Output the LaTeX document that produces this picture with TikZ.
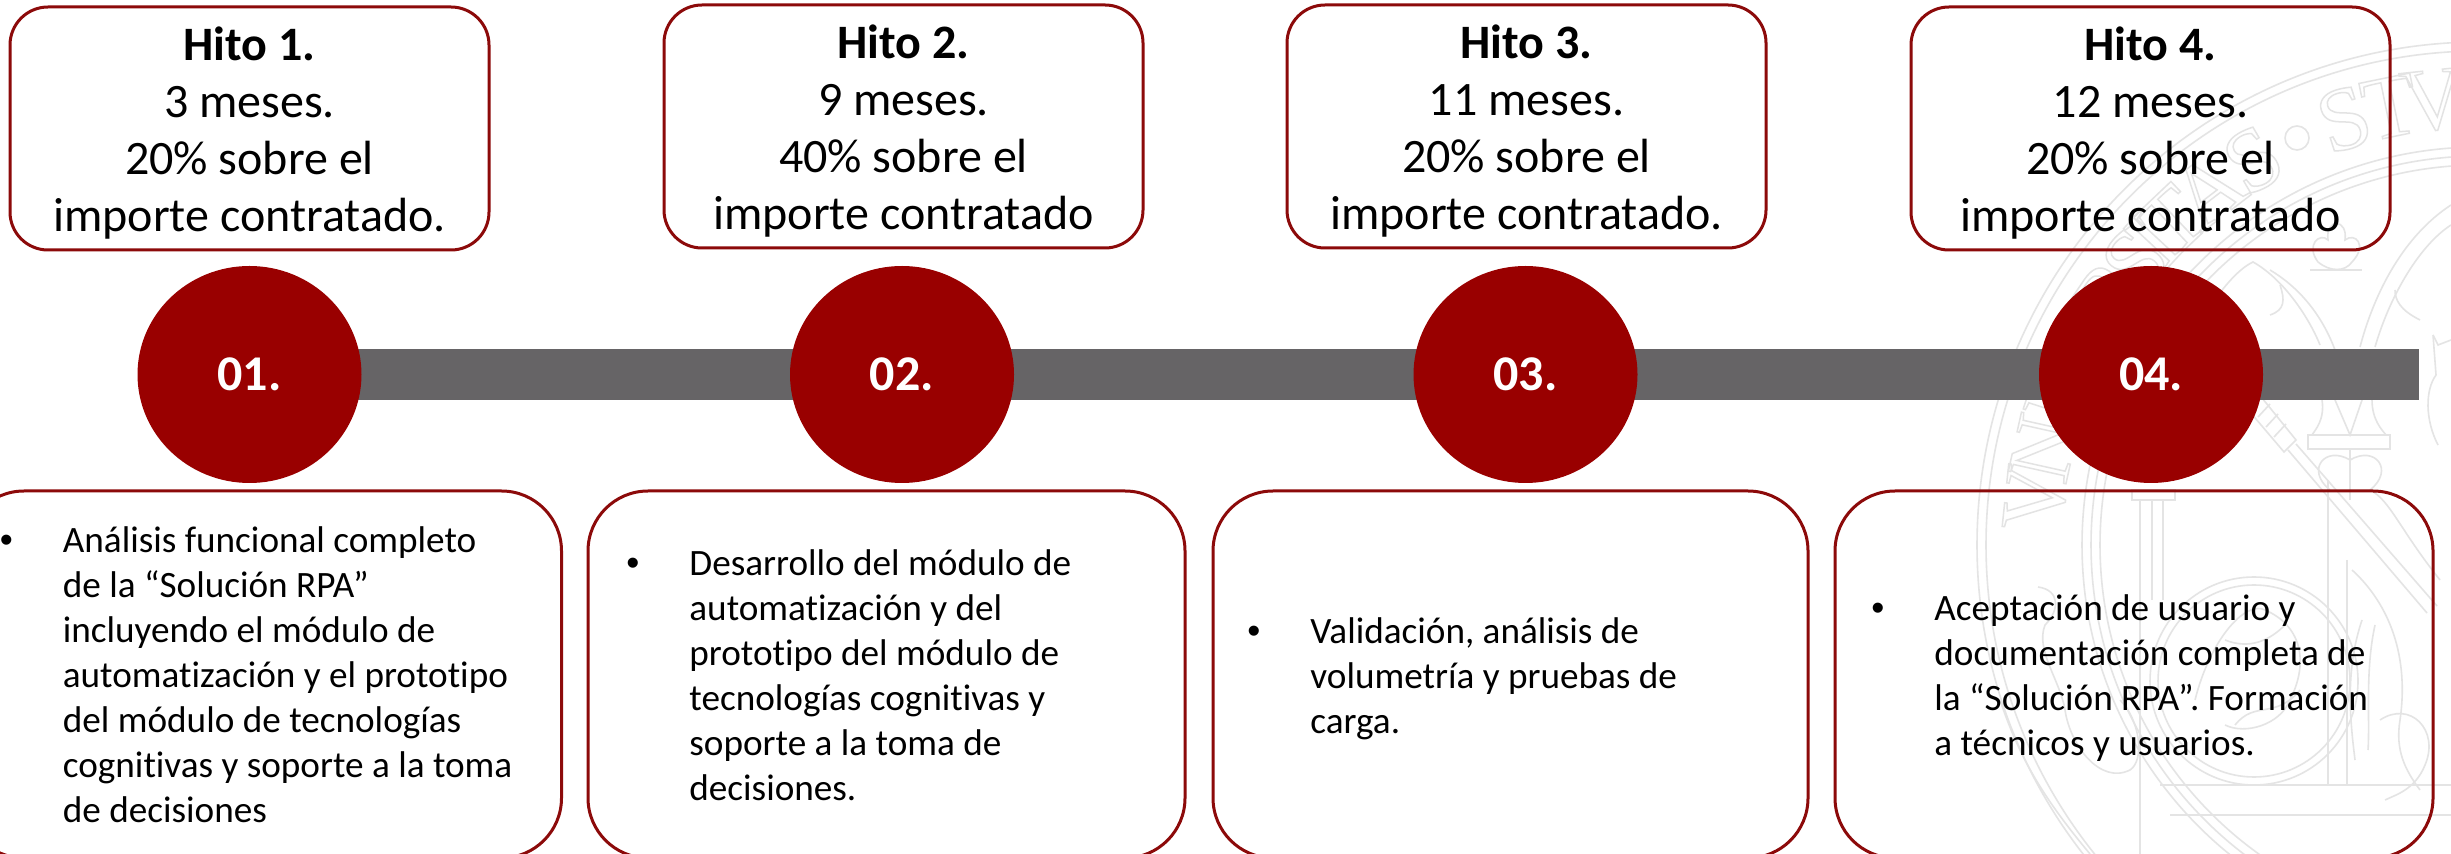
\documentclass[tikz,border=0pt]{standalone}
\usepackage{fontspec}
\setmainfont{Carlito}[Ligatures=NoCommon]
\newfontfamily\sealfont{Liberation Serif}
\newfontfamily\dotfont{Liberation Sans}
\definecolor{unired}{HTML}{990000}
\definecolor{uniline}{HTML}{8C0A0A}
\definecolor{bargrey}{HTML}{666466}
\definecolor{sealgrey}{HTML}{E4E4E4}
\newcommand\hitofont{\fontsize{24}{28.6}\selectfont}
\newcommand\bodyfont{\fontsize{18.6}{22.5}\selectfont}
\newcommand\bul{\llap{\dotfont •\hspace{25pt}}\rule{0pt}{16pt}}
\newcommand\toph{\rule{0pt}{23pt}}
\newcommand\botd{\rule[-5.5pt]{0pt}{5.5pt}}
\newcommand\outl[1]{\special{pdf:code 1 Tr 0.75 w 0.89 G}#1\special{pdf:code 0 Tr 0 G}}
\tikzset{
  topbox/.style={draw=uniline,line width=1.5pt,rounded corners=19pt,minimum width=239.5pt,minimum height=121.5pt,inner sep=0pt,align=center,font=\hitofont,text=black},
  lowbox/.style={draw=uniline,line width=1.5pt,rounded corners=30pt,inner sep=0pt},
  disc/.style={ellipse,fill=unired,inner sep=0pt,minimum width=112pt,minimum height=108.5pt,text=white,font=\fontsize{25}{28}\selectfont\bfseries},
  body/.style={anchor=north west,align=left,inner sep=0pt,font=\bodyfont,text=black},
  seal/.style={draw=sealgrey,line width=0.8pt},
  sealtext/.style={inner sep=0pt,font=\fontsize{45}{45}\selectfont\sealfont}
}
\usetikzlibrary{shapes.geometric}
\begin{document}
\begin{tikzpicture}[x=0.5pt,y=-0.5pt]
\useasboundingbox (0,0) rectangle (2451,854);
\fill[white] (0,0) rectangle (2451,854);
% watermark seal
\begin{scope}
\clip (0,0) rectangle (2451,854);
\coordinate (C) at (2480,545);
\foreach \r in {503,494,398,389,380}{\draw[seal] (C) circle[radius=\r];}
\foreach \a/\c [count=\i] in {84/V,77.5/N,72/I,67/V,61.5/E,56/R,50.5/S,47/I,43.5/T,37.5/A,30.5/S,17.7/S,11.6/T,6/V,-135/A}{
  \node[sealtext,rotate=\a,name=sl\i] at ({2480-447*sin(\a)},{545-447*cos(\a)}) {\outl{\c}};
}
\draw[seal] (2297,138) circle[radius=12];
% inner medallion
\coordinate (M) at (2254,681);
\draw[seal] (M) circle[radius=104];
\draw[seal] (M) circle[radius=96];
\draw[seal] (2195,700) .. controls (2210,640) and (2245,600) .. (2265,610) .. controls (2300,625) and (2310,660) .. (2290,700) .. controls (2280,725) and (2245,735) .. (2225,725);
\draw[seal] (2225,640) .. controls (2250,650) and (2270,640) .. (2285,625);
\draw[seal] (2235,725) .. controls (2255,700) and (2275,720) .. (2300,690);
% column
\draw[seal] (2140,500) -- (2140,854);
\draw[seal] (2152,500) -- (2152,600);
\draw[seal] (2163,500) -- (2163,600);
\draw[seal] (2132,490) -- (2175,490) -- (2175,500) -- (2132,500) -- cycle;
% verticals and base lines
\draw[seal] (2328,480) -- (2328,785);
\draw[seal] (2347,560) -- (2347,785);
\draw[seal] (2160,785) -- (2451,785);
\draw[seal] (2170,815) -- (2451,815);
% staff and fork
\draw[seal] (2288,450) -- (2427,613);
\draw[seal] (2296,444) -- (2437,606);
\draw[seal] (2262,398) -- (2296,440) -- (2284,452) -- (2250,412);
\draw[seal] (2270,404) -- (2258,417);
\draw[seal] (2278,414) -- (2266,427);
\draw[seal] (2286,424) -- (2274,437);
% winged figure
\draw[seal] (2352,570) .. controls (2385,600) and (2410,650) .. (2400,720) .. controls (2395,750) and (2405,770) .. (2420,790);
\draw[seal] (2362,620) .. controls (2345,670) and (2350,720) .. (2355,760);
\draw[seal] (2375,625) .. controls (2365,670) and (2370,720) .. (2368,750);
\draw[seal] (2380,720) .. controls (2410,700) and (2440,730) .. (2425,765) .. controls (2415,790) and (2395,795) .. (2385,800);
\draw[seal] (2440,580) .. controls (2400,530) and (2390,500) .. (2370,490);
% pillar and arcs
\draw[seal] (2308,435) rectangle (2390,449);
\draw[seal] (2320,345) .. controls (2310,320) and (2285,280) .. (2253,262) .. controls (2240,268) and (2225,285) .. (2215,300);
\draw[seal] (2335,350) .. controls (2320,310) and (2295,285) .. (2270,270);
\draw[seal] (2360,347) .. controls (2375,290) and (2405,235) .. (2451,205);
\draw[seal] (2375,347) .. controls (2390,295) and (2420,245) .. (2451,225);
\draw[seal] (2270,315) .. controls (2285,310) and (2285,300) .. (2280,285);
\draw[seal] (2420,320) .. controls (2400,310) and (2395,300) .. (2395,290);
\draw[seal] (2322,400) .. controls (2325,420) and (2315,430) .. (2312,435);
\draw[seal] (2372,400) .. controls (2372,420) and (2382,430) .. (2386,435);
\draw[seal] (2335,400) -- (2350,435) -- (2362,400);
\draw[seal] (2350,449) -- (2350,500);
\draw[seal] (2350,460) .. controls (2325,445) and (2305,470) .. (2330,490);
\draw[seal] (2350,460) .. controls (2375,445) and (2395,470) .. (2370,490);
% trefoil
\draw[seal] (2310,270) -- (2362,270);
\draw[seal] (2318,262) .. controls (2305,245) and (2320,232) .. (2328,240) .. controls (2325,218) and (2348,218) .. (2345,240) .. controls (2355,232) and (2368,245) .. (2352,262) .. controls (2345,272) and (2330,272) .. (2318,262);
% right crowned figure
\draw[seal] (2433,335) -- (2438,345) -- (2451,340);
\draw[seal] (2433,335) -- (2436,375) .. controls (2425,390) and (2425,420) .. (2438,445);
% left scroll
\draw[seal] (2038,587) .. controls (2060,590) and (2060,610) .. (2045,625) .. controls (2035,650) and (2060,680) .. (2065,710) .. controls (2070,745) and (2100,785) .. (2130,770) .. controls (2145,760) and (2140,720) .. (2120,700);
\draw[seal] (2000,700) .. controls (2020,760) and (2045,800) .. (2090,854);
\end{scope}
% bar
\fill[bargrey] (230,349) rectangle (2419,400);
% discs
\node[disc] (c1) at (249.5,374.5) {01.};
\node[disc] (c2) at (902,374.5) {02.};
\node[disc] (c3) at (1525.5,374.5) {03.};
\node[disc] (c4) at (2151,374.5) {04.};
% top boxes
\node[topbox] (h1) at (249.5,128.5) {\toph\textbf{Hito 1.}\\3 meses.\\20\% sobre el\\importe contratado.\botd};
\node[topbox] (h2) at (903.5,126.5) {\toph\textbf{Hito 2.}\\9 meses.\\40\% sobre el\\importe contratado\botd};
\node[topbox] (h3) at (1526.5,126.5) {\toph\textbf{Hito 3.}\\11 meses.\\20\% sobre el\\importe contratado.\botd};
\node[topbox] (h4) at (2150.5,128.5) {\toph\textbf{Hito 4.}\\12 meses.\\20\% sobre el\\importe contratado\botd};
% lower boxes
\draw[lowbox] (-36,491) rectangle (561.5,858);
\draw[lowbox] (588,491) rectangle (1185,858);
\draw[lowbox] (1213,491) rectangle (1808,858);
\draw[lowbox] (1835,491) rectangle (2433,858);
% lower text
\node[body] (t1) at (62.5,520) {\bul Análisis funcional completo\\de la “Solución RPA”\\incluyendo el módulo de\\automatización y el prototipo\\del módulo de tecnologías\\cognitivas y soporte a la toma\\de decisiones};
\node[body] (t2) at (689,543) {\bul Desarrollo del módulo de\\automatización y del\\prototipo del módulo de\\tecnologías cognitivas y\\soporte a la toma de\\decisiones.};
\node[body] (t3) at (1310,611) {\bul Validación, análisis de\\volumetría y pruebas de\\carga.};
\node[body] (t4) at (1934,588) {\bul Aceptación de usuario y\\documentación completa de\\la “Solución RPA”. Formación\\a técnicos y usuarios.};
\end{tikzpicture}
\end{document}
